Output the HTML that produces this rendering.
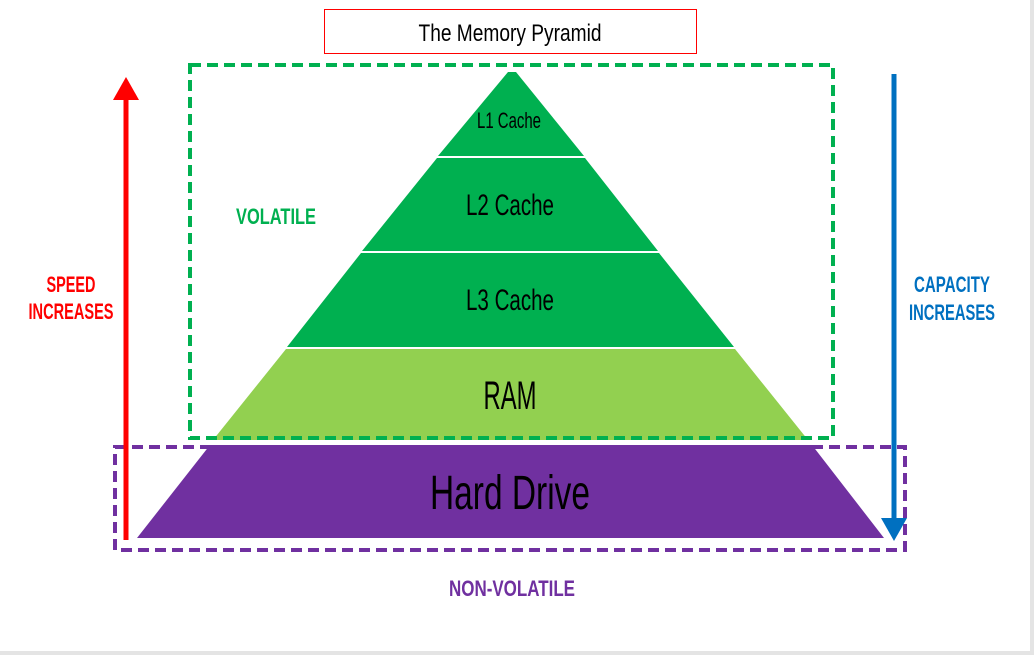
<!DOCTYPE html>
<html><head><meta charset="utf-8"><style>
html,body{margin:0;padding:0;background:#fff;}
svg{display:block;}
text{font-family:"Liberation Sans Narrow","Liberation Sans",sans-serif;}
</style></head><body>
<svg width="1034" height="655" viewBox="0 0 1034 655" xmlns="http://www.w3.org/2000/svg">
<rect x="0" y="0" width="1034" height="655" fill="#fff"/>
<rect x="1030" y="0" width="4" height="655" fill="#e4e4e4"/>
<rect x="0" y="651" width="1034" height="4" fill="#e4e4e4"/>
<!-- title -->
<rect x="324.5" y="9.5" width="372" height="44" fill="#fff" stroke="#ff0000" stroke-width="1"/>
<text x="510" y="41" font-size="24" text-anchor="middle" textLength="183" lengthAdjust="spacingAndGlyphs" fill="#000">The Memory Pyramid</text>
<!-- pyramid -->
<polygon points="508,72 516,72 584,156 438,156" fill="#00b050"/>
<polygon points="437,158 585,158 658,251 362,251" fill="#00b050"/>
<polygon points="361,253 659,253 734,347 287,347" fill="#00b050"/>
<polygon points="286,349 735,349 808,440 213,440" fill="#92d050"/>
<polygon points="210,445 812,445 884,538 137,538" fill="#7030a0"/>
<text x="509" y="128" font-size="22" text-anchor="middle" textLength="64" lengthAdjust="spacingAndGlyphs">L1 Cache</text>
<text x="510" y="215" font-size="30" text-anchor="middle" textLength="88" lengthAdjust="spacingAndGlyphs">L2 Cache</text>
<text x="510" y="310" font-size="30" text-anchor="middle" textLength="88" lengthAdjust="spacingAndGlyphs">L3 Cache</text>
<text x="510" y="409" font-size="40" text-anchor="middle" textLength="53" lengthAdjust="spacingAndGlyphs">RAM</text>
<text x="510" y="509" font-size="48" text-anchor="middle" textLength="160" lengthAdjust="spacingAndGlyphs">Hard Drive</text>
<!-- dashed boxes -->
<rect x="190" y="65" width="643" height="373" fill="none" stroke="#00b050" stroke-width="4" stroke-dasharray="11,6"/>
<rect x="115" y="447" width="790" height="103" fill="none" stroke="#7030a0" stroke-width="4" stroke-dasharray="11,6"/>
<!-- arrows -->
<line x1="126" y1="540" x2="126" y2="98" stroke="#ff0000" stroke-width="5"/>
<polygon points="113,100 139,100 126,77" fill="#ff0000"/>
<line x1="894" y1="74" x2="894" y2="520" stroke="#0070c0" stroke-width="5"/>
<polygon points="881,518 907,518 894,541" fill="#0070c0"/>
<!-- labels -->
<g font-weight="bold">
<text x="276" y="224" font-size="22" text-anchor="middle" textLength="80" lengthAdjust="spacingAndGlyphs" fill="#00b050">VOLATILE</text>
<text x="71" y="292" font-size="22" text-anchor="middle" textLength="49" lengthAdjust="spacingAndGlyphs" fill="#ff0000">SPEED</text>
<text x="71" y="319" font-size="22" text-anchor="middle" textLength="85" lengthAdjust="spacingAndGlyphs" fill="#ff0000">INCREASES</text>
<text x="952" y="292" font-size="22" text-anchor="middle" textLength="76" lengthAdjust="spacingAndGlyphs" fill="#0070c0">CAPACITY</text>
<text x="952" y="320" font-size="22" text-anchor="middle" textLength="86" lengthAdjust="spacingAndGlyphs" fill="#0070c0">INCREASES</text>
<text x="512" y="596" font-size="22" text-anchor="middle" textLength="126" lengthAdjust="spacingAndGlyphs" fill="#7030a0">NON-VOLATILE</text>
</g>
</svg>
</body></html>
